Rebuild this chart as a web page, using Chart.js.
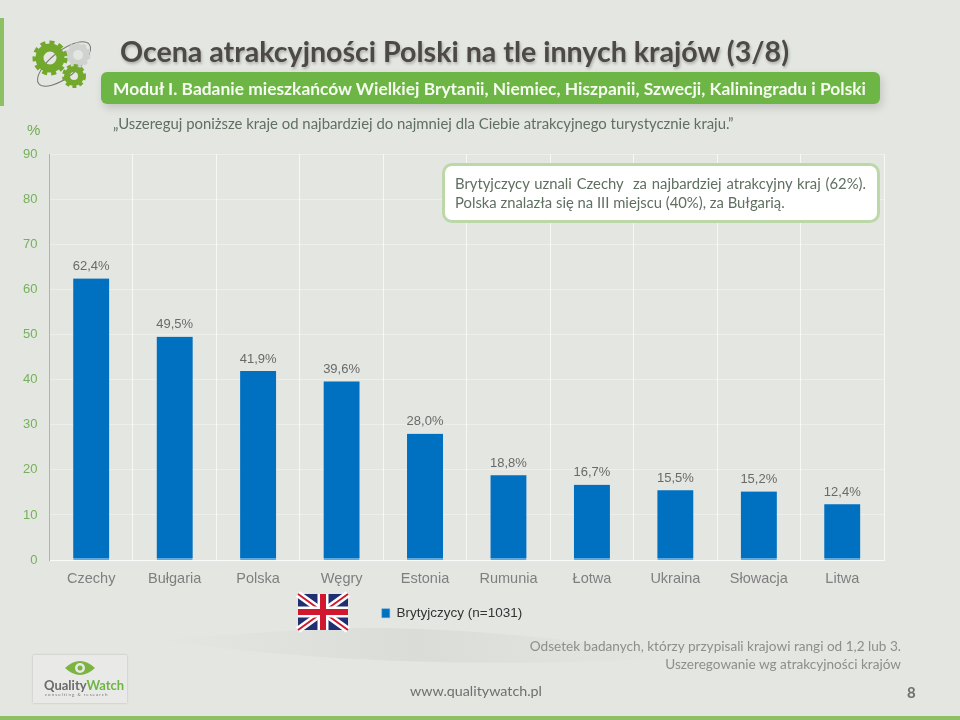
<!DOCTYPE html>
<html>
<head>
<meta charset="utf-8">
<script src="https://cdn.jsdelivr.net/npm/chart.js@4"></script>
<style>
    html, body { margin: 0; padding: 0; }
    #page { position: relative; width: 960px; height: 720px; overflow: hidden; background: #e4e6e2; font-family: Lato, "Open Sans", sans-serif; }
    #page div { position: absolute; white-space: nowrap; }
    #bg, #art { position: absolute; left: 0; top: 0; }
    #chartWrap { left: 0; top: 0; width: 914px; height: 633px; }
    #title { left: 120px; top: 33px; font-size: 28.6px; line-height: 36px; font-weight: 700; color: #4c4947; text-shadow: 1px 2px 3px rgba(0,0,0,.25); }
    #bar { left: 101px; top: 72px; width: 779px; height: 32px; background: #6db544; border-radius: 6px; box-shadow: 2px 4px 8px rgba(0,0,0,.15); }
    #sub { left: 113px; top: 77px; font-size: 17.4px; line-height: 24px; font-weight: 700; color: #f6fbf2; }
    #question { left: 113px; top: 113px; font-size: 14.9px; line-height: 20px; color: #5f6f60; }
    #pct { left: 27px; top: 120px; font: 15px "Liberation Sans"; line-height: 20px; color: #6fae4f; }
    #note { left: 442px; top: 163px; width: 438px; height: 60px; box-sizing: border-box; background: #fff; border: 3px solid #bcd8a8; border-radius: 10px; }
    .noteLine { left: 455px; font-size: 14.8px; line-height: 20px; color: #5f6f60; }
    #page #noteFirst { top: 173px; width: 411px; white-space: normal; text-align: justify; text-align-last: justify; }
    .foot { right: 59px; font-size: 13.6px; line-height: 18px; color: #8c8f8c; }
    #www { left: 410px; top: 682px; font-size: 14.3px; line-height: 18px; color: #6f6f6f; }
    #num { left: 907px; top: 683px; font-size: 15px; line-height: 18px; font-weight: 700; color: #6f6f6f; }
    #logoBox { left: 33px; top: 655px; width: 94px; height: 48px; background: #e9e9e7; box-shadow: 0 0 2px rgba(0,0,0,.2); }
    #logoText { left: 44px; top: 678px; font-size: 13px; line-height: 14px; font-weight: 700; color: #6a6a6a; }
    #logoText span { color: #6db544; }
    #logoSmall { left: 45px; top: 692px; font-size: 4.5px; line-height: 5px; letter-spacing: 1px; color: #777; }
</style>
</head>
<body>
<div id="page">
    <svg id="bg" width="960" height="720">
        <defs>
            <linearGradient id="swoosh" x1="0" y1="0" x2="1" y2="0">
                <stop offset="0" stop-color="#dcdeda" stop-opacity="0"/>
                <stop offset=".5" stop-color="#dadcd8"/>
                <stop offset="1" stop-color="#dcdeda" stop-opacity="0"/>
            </linearGradient>
        </defs>
        <path d="M150 640 C 260 652 400 672 680 658 C 600 640 420 622 300 630 C 240 634 190 638 150 640 Z" fill="url(#swoosh)"/>
        <rect x="0" y="18" width="4" height="88" fill="#8cc063"/>
        <rect x="0" y="716" width="960" height="4" fill="#8cc063"/>
    </svg>
    <div id="chartWrap"><canvas id="myChart"></canvas></div>
    <svg id="art" width="960" height="720">
        <ellipse cx="64" cy="64" rx="32" ry="13" transform="rotate(-38 64 64)" fill="none" stroke="#777" stroke-width="1"/>
        <circle cx="78" cy="55" r="8" fill="none" stroke="#d0d2cf" stroke-width="6"/>
        <circle cx="78" cy="55" r="11" fill="none" stroke="#d0d2cf" stroke-width="3" stroke-dasharray="4 3"/>
        <circle cx="50" cy="58" r="10.5" fill="none" stroke="#72a82c" stroke-width="8"/>
        <circle cx="50" cy="58" r="15.5" fill="none" stroke="#72a82c" stroke-width="4" stroke-dasharray="5 4"/>
        <circle cx="74" cy="76" r="7" fill="none" stroke="#72a82c" stroke-width="6"/>
        <circle cx="74" cy="76" r="10.5" fill="none" stroke="#72a82c" stroke-width="3" stroke-dasharray="4 3"/>
        <g>
            <rect x="298" y="594" width="50" height="36" fill="#1f2f72"/>
            <path d="M298 594 L348 630 M348 594 L298 630" stroke="#fff" stroke-width="7"/>
            <path d="M298 594 L348 630 M348 594 L298 630" stroke="#d2182f" stroke-width="2"/>
            <path d="M323 594 V630 M298 612 H348" stroke="#fff" stroke-width="11"/>
            <path d="M323 594 V630 M298 612 H348" stroke="#d2182f" stroke-width="6"/>
        </g>
    </svg>
    <div id="title">Ocena atrakcyjności Polski na tle innych krajów (3/8)</div>
    <div id="bar"></div>
    <div id="sub">Moduł I. Badanie mieszkańców Wielkiej Brytanii, Niemiec, Hiszpanii, Szwecji, Kaliningradu i Polski</div>
    <div id="question">„Uszereguj poniższe kraje od najbardziej do najmniej dla Ciebie atrakcyjnego turystycznie kraju.”</div>
    <div id="pct">%</div>
    <div id="note"></div>
    <div class="noteLine" id="noteFirst">Brytyjczycy uznali Czechy&nbsp; za najbardziej atrakcyjny kraj (62%).</div>
    <div class="noteLine" style="top:192px">Polska znalazła się na III miejscu (40%), za Bułgarią.</div>
    <div class="foot" style="top:637px">Odsetek badanych, którzy przypisali krajowi rangi od 1,2 lub 3.</div>
    <div class="foot" style="top:655px">Uszeregowanie wg atrakcyjności krajów</div>
    <div id="www">www.qualitywatch.pl</div>
    <div id="num">8</div>
    <div id="logoBox"></div>
    <svg id="art2" width="960" height="720" style="position:absolute;left:0;top:0">
        <path d="M65 668 Q80 654 95 668 Q80 682 65 668 Z" fill="#7cb342"/>
        <circle cx="80" cy="668" r="5" fill="#e9e9e7"/>
        <circle cx="80" cy="668" r="2.5" fill="#7cb342"/>
    </svg>
    <div id="logoText">Quality<span>Watch</span></div>
    <div id="logoSmall">consulting &amp; research</div>
</div>
<script>
    var categories = ["Czechy", "Bułgaria", "Polska", "Węgry", "Estonia", "Rumunia", "Łotwa", "Ukraina", "Słowacja", "Litwa"];
    var values = [62.4, 49.5, 41.9, 39.6, 28.0, 18.8, 16.7, 15.5, 15.2, 12.4];
    var seriesName = "Brytyjczycy (n=1031)";
    var yTicks = [0, 10, 20, 30, 40, 50, 60, 70, 80, 90];

    // labels above the bars, comma as decimal separator
    var valueLabels = {
        id: "valueLabels",
        afterDatasetsDraw: function(chart) {
            var ctx = chart.ctx;
            var bars = chart.getDatasetMeta(0).data;
            ctx.save();
            ctx.font = "13px 'Liberation Sans'";
            ctx.fillStyle = "#6a6a6a";
            ctx.textAlign = "center";
            ctx.textBaseline = "middle";
            for (var i = 0; i < bars.length; i++) {
                ctx.fillText(values[i].toFixed(1).replace(".", ",") + "%", bars[i].x, bars[i].y - 12);
            }
            ctx.restore();
        }
    };

    var chart = new Chart(document.getElementById("myChart"), {
        type: "bar",
        data: {
            labels: categories,
            datasets: [{
                label: seriesName,
                data: values,
                backgroundColor: "#0070c0",
                borderColor: "#5aa9e0",
                borderWidth: { top: 0, left: 0, right: 0, bottom: 2 },
                borderSkipped: false,
                barThickness: 36
            }]
        },
        options: {
            responsive: true,
            maintainAspectRatio: false,
            animation: false,
            // left padding pushes the legend towards the middle of the plot, y axis width makes up for it
            layout: { padding: { top: 154, right: 30, bottom: 3, left: 20 } },
            plugins: {
                title: { display: false },
                tooltip: { enabled: false },
                legend: {
                    position: "bottom",
                    labels: {
                        boxWidth: 8,
                        boxHeight: 9,
                        color: "#333",
                        padding: 9,
                        font: { family: "'Liberation Sans'", size: 13.5 }
                    }
                }
            },
            scales: {
                x: {
                    grid: { color: "rgba(255,255,255,.7)", drawTicks: false },
                    border: { color: "rgba(255,255,255,.7)" },
                    ticks: { color: "#7f7f7f", padding: 10, maxRotation: 0, font: { family: "'Liberation Sans'", size: 14.5 } }
                },
                y: {
                    min: 0,
                    max: 90,
                    afterBuildTicks: function(axis) {
                        axis.ticks = yTicks.map(function(v) { return { value: v }; });
                    },
                    afterFit: function(axis) { axis.width = 29.5; },
                    grid: { color: "rgba(255,255,255,.35)", drawTicks: false },
                    border: { color: "#9cc486" },
                    ticks: { color: "#74b257", padding: 12, font: { family: "'Liberation Sans'", size: 13 } }
                }
            }
        },
        plugins: [valueLabels]
    });
</script>
</body>
</html>
